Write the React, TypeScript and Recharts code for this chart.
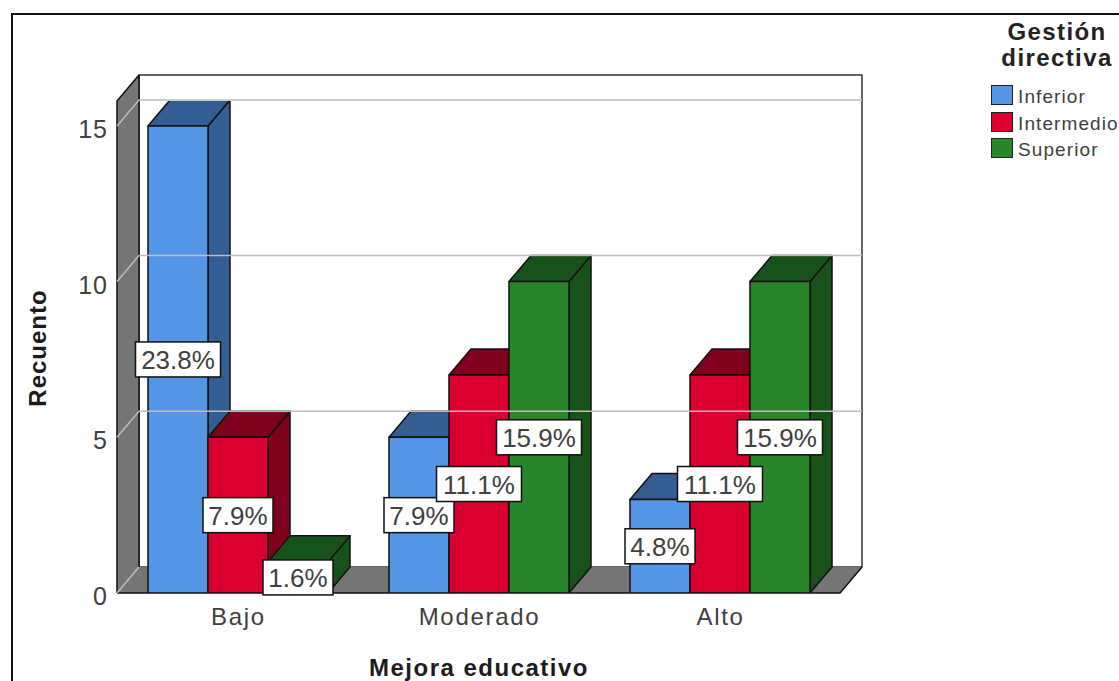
import {
  ComposedChart,
  Bar,
  XAxis,
  YAxis,
  LabelList,
  Legend,
  ReferenceArea,
  ReferenceLine,
} from "recharts";

const categories = ["Bajo", "Moderado", "Alto"];
const inferior = [15, 5, 3];
const intermedio = [5, 7, 7];
const superior = [1, 10, 10];
const inferiorPct = ["23.8%", "7.9%", "4.8%"];
const intermedioPct = ["7.9%", "11.1%", "11.1%"];
const superiorPct = ["1.6%", "15.9%", "15.9%"];
const yTicks = [0, 5, 10, 15];
const gridValues = [0, 5, 10, 15];

const tableData = categories.map((name, i) => ({
  name,
  inferior: inferior[i],
  intermedio: intermedio[i],
  superior: superior[i],
  inferiorPct: inferiorPct[i],
  intermedioPct: intermedioPct[i],
  superiorPct: superiorPct[i],
}));

// depth of the fake 3D box
const DX = 22;
const DY = -26;
const EDGE = "#111";
const FONT = "'Liberation Sans', Arial, sans-serif";
const TEXT = "#404040";

function Bar3D(props: any) {
  const { x, y, width, height, fill, dark } = props;
  const r = x + width;
  const b = y + height;
  return (
    <g stroke={EDGE} strokeWidth={1.5} strokeLinejoin="round">
      <polygon
        points={`${r},${y} ${r + DX},${y + DY} ${r + DX},${b + DY} ${r},${b}`}
        fill={dark}
      />
      <polygon
        points={`${x},${y} ${x + DX},${y + DY} ${r + DX},${y + DY} ${r},${y}`}
        fill={dark}
      />
      <rect x={x} y={y} width={width} height={height} fill={fill} />
    </g>
  );
}

// back wall, side wall and floor of the plot box
function Walls(props: any) {
  const { x, y, width, height } = props;
  const r = x + width;
  const b = y + height;
  return (
    <g strokeLinejoin="round">
      <rect
        x={x + DX}
        y={y + DY}
        width={width}
        height={height}
        fill="#fff"
        stroke="#333"
        strokeWidth={1.5}
      />
      <polygon
        points={`${x},${y} ${x + DX},${y + DY} ${x + DX},${b + DY} ${x},${b}`}
        fill="#757575"
      />
      <polygon
        points={`${x},${b} ${x + DX},${b + DY} ${r + DX},${b + DY} ${r},${b}`}
        fill="#757575"
      />
      {/* the seam between wall and floor stays open */}
      <polyline
        points={`${x},${b} ${x},${y} ${x + DX},${y + DY} ${x + DX},${b + DY}`}
        fill="none"
        stroke={EDGE}
        strokeWidth={1.5}
      />
      <polyline
        points={`${x},${b} ${r},${b} ${r + DX},${b + DY}`}
        fill="none"
        stroke={EDGE}
        strokeWidth={1.5}
      />
    </g>
  );
}

function GridLine(props: any) {
  const { x1, x2, y1, wallOnly } = props;
  const end = wallOnly ? "" : ` ${x2 + DX},${y1 + DY}`;
  return (
    <polyline
      points={`${x1},${y1} ${x1 + DX},${y1 + DY}${end}`}
      fill="none"
      stroke="#bdbdbd"
      strokeWidth={1.5}
    />
  );
}

function PctLabel(props: any) {
  const { x, y, width, height, value } = props;
  const cx = x + width / 2;
  const cy = y + height / 2;
  const w = String(value).length > 4 ? 85 : 70;
  return (
    <g>
      <rect
        x={cx - w / 2}
        y={cy - 17.5}
        width={w}
        height={35}
        fill="#fff"
        stroke={EDGE}
        strokeWidth={1.5}
      />
      <text
        x={cx}
        y={cy + 9.5}
        textAnchor="middle"
        fontFamily={FONT}
        fontSize={26}
        fill={TEXT}
      >
        {value}
      </text>
    </g>
  );
}

function YTick(props: any) {
  const { x, y, payload } = props;
  return (
    <text
      x={x - 3}
      y={y + 12}
      textAnchor="end"
      fontFamily={FONT}
      fontSize={25}
      letterSpacing={1}
      fill={TEXT}
    >
      {payload.value}
    </text>
  );
}

function XTick(props: any) {
  const { x, y, payload } = props;
  return (
    <text
      x={x + 1}
      y={y + 24}
      textAnchor="middle"
      fontFamily={FONT}
      fontSize={24}
      letterSpacing={1.7}
      fill={TEXT}
    >
      {payload.value}
    </text>
  );
}

function LegendBox(props: any) {
  const items = (props.payload ?? []).filter((item: any) => item.color !== "none");
  return (
    <div style={{ fontFamily: FONT, width: 130, whiteSpace: "nowrap" }}>
      <div
        style={{
          fontWeight: "bold",
          fontSize: 24,
          lineHeight: "26px",
          letterSpacing: 1.4,
          textAlign: "center",
          color: "#222",
          marginLeft: 6,
        }}
      >
        Gestión
        <br />
        directiva
      </div>
      <div style={{ marginTop: 11 }}>
        {items.map((item: any) => (
          <div
            key={item.value}
            style={{ display: "flex", alignItems: "center", height: 26.5 }}
          >
            <span
              style={{
                width: 20,
                height: 18,
                background: item.color,
                border: "1.5px solid #222",
                marginLeft: 2,
                marginRight: 5,
                flex: "none",
              }}
            />
            <span
              style={{
                fontSize: 19,
                letterSpacing: 1.1,
                color: TEXT,
                position: "relative",
                top: 2,
              }}
            >
              {item.value}
            </span>
          </div>
        ))}
      </div>
    </div>
  );
}

const titleStyle = {
  fontFamily: FONT,
  fontWeight: "bold",
  fontSize: 24,
  letterSpacing: 1.5,
  fill: "#1c1c1c",
};

export default function App() {
  return (
    <div
      style={{
        position: "absolute",
        left: 0,
        top: 0,
        width: 1119,
        height: 681,
        overflow: "hidden",
        background: "#fff",
      }}
    >
      <div
        style={{
          position: "absolute",
          left: 11,
          top: 13,
          right: 0,
          bottom: 0,
          borderTop: "2px solid #111",
          borderLeft: "2px solid #111",
        }}
      />
      <div style={{ position: "absolute", left: 0, top: 0 }}>
        <ComposedChart
          width={1119}
          height={681}
          data={tableData}
          margin={{ top: 101, right: 149, bottom: 28, left: 57 }}
          barSize={60}
          barGap={0}
        >
          <XAxis
            dataKey="name"
            height={60}
            axisLine={false}
            tickLine={false}
            tick={<XTick />}
            interval={0}
            label={{
              content: () => (
                <text x={479} y={676} textAnchor="middle" {...titleStyle}>
                  Mejora educativo
                </text>
              ),
            }}
          />
          <XAxis dataKey="name" xAxisId="overlay" hide />
          <YAxis
            width={60}
            domain={[0, 15.8]}
            ticks={yTicks}
            allowDataOverflow
            axisLine={false}
            tickLine={false}
            tickMargin={0}
            tick={<YTick />}
            label={{
              content: () => (
                <text
                  x={46}
                  y={348}
                  textAnchor="middle"
                  transform="rotate(-90 46 348)"
                  {...titleStyle}
                  letterSpacing={1}
                >
                  Recuento
                </text>
              ),
            }}
          />
          <Legend
            layout="vertical"
            align="right"
            verticalAlign="top"
            width={130}
            content={<LegendBox />}
            wrapperStyle={{ left: 989, top: 19, right: "auto" }}
          />
          <ReferenceArea y1={0} y2={15.8} shape={<Walls />} />
          {gridValues.map((v) => (
            <ReferenceLine key={v} y={v} shape={<GridLine wallOnly={v === 0} />} />
          ))}
          <Bar
            dataKey="inferior"
            name="Inferior"
            fill="#5495e6"
            isAnimationActive={false}
            shape={(p: any) => <Bar3D {...p} dark="#345d92" />}
          />
          <Bar
            dataKey="intermedio"
            name="Intermedio"
            fill="#d9002f"
            isAnimationActive={false}
            shape={(p: any) => <Bar3D {...p} dark="#7f001c" />}
          />
          <Bar
            dataKey="superior"
            name="Superior"
            fill="#28852a"
            isAnimationActive={false}
            shape={(p: any) => <Bar3D {...p} dark="#17521a" />}
          />
          {/* same bars again, invisible, so the value boxes sit above every column */}
          <Bar
            xAxisId="overlay"
            dataKey="inferior"
            fill="none"
            legendType="none"
            isAnimationActive={false}
          >
            <LabelList dataKey="inferiorPct" content={<PctLabel />} />
          </Bar>
          <Bar
            xAxisId="overlay"
            dataKey="intermedio"
            fill="none"
            legendType="none"
            isAnimationActive={false}
          >
            <LabelList dataKey="intermedioPct" content={<PctLabel />} />
          </Bar>
          <Bar
            xAxisId="overlay"
            dataKey="superior"
            fill="none"
            legendType="none"
            isAnimationActive={false}
          >
            <LabelList dataKey="superiorPct" content={<PctLabel />} />
          </Bar>
        </ComposedChart>
      </div>
    </div>
  );
}
